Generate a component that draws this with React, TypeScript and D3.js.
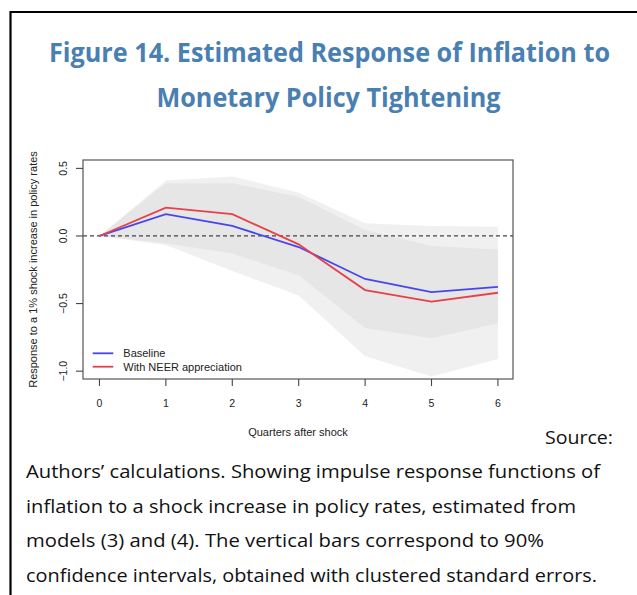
import React from "react";
import * as d3 from "d3";

const quarters = [0, 1, 2, 3, 4, 5, 6];
const baseline = [0, 0.162, 0.074, -0.082, -0.318, -0.416, -0.377];
const neer = [0, 0.209, 0.162, -0.062, -0.4, -0.485, -0.42];
const outerUpper = [0, 0.41, 0.44, 0.32, 0.094, 0.074, 0.069];
const outerLower = [0, -0.066, -0.26, -0.44, -0.89, -1.04, -0.91];
const innerUpper = [0, 0.39, 0.39, 0.29, 0.044, -0.074, -0.1];
const innerLower = [0, -0.054, -0.13, -0.29, -0.68, -0.756, -0.645];
const yTicks = [0.5, 0.0, -0.5, -1.0];
const yTickLabels = ["0.5", "0.0", "\u22120.5", "\u22121.0"];
const seriesNames = ["Baseline", "With NEER appreciation"];
const titleLines = ["Figure 14. Estimated Response of Inflation to", "Monetary Policy Tightening"];
const captionLines = [
  "Authors\u2019 calculations. Showing impulse response functions of",
  "inflation to a shock increase in policy rates, estimated from",
  "models (3) and (4). The vertical bars correspond to 90%",
  "confidence intervals, obtained with clustered standard errors.",
];

const W = 637;
const H = 595;
const box = { left: 83, right: 513, top: 160, bottom: 379 };

export default function App() {
  const x = d3.scaleLinear().domain([-0.248, 6.227]).range([box.left, box.right]);
  const y = d3.scaleLinear().domain([-1.058, 0.562]).range([box.bottom, box.top]);

  const band = (lo: number[], hi: number[]) =>
    d3
      .area<number>()
      .x((d) => x(d))
      .y0((d, i) => y(lo[i]))
      .y1((d, i) => y(hi[i]))(quarters) || "";
  const line = (vals: number[]) =>
    d3
      .line<number>()
      .x((d) => x(d))
      .y((d, i) => y(vals[i]))(quarters) || "";

  const axisFont = "Liberation Sans, Arial, sans-serif";
  const bodyFont = "Open Sans, Noto Sans, sans-serif";
  const colors = ["#4646ee", "#e8404a"];
  const captionWidths = [574, 550, 518, 571];
  const lineH = 34.5;

  return (
    <svg
      width={W}
      height={H}
      style={{ position: "absolute", left: 0, top: 0, background: "#fff" }}
    >
      <rect x={0} y={0} width={W} height={H} fill="#fff" />
      {/* outer frame */}
      <path d={`M10.5,${H} L10.5,12 L${W},12`} fill="none" stroke="#000" strokeWidth={2.2} />

      {/* title */}
      {titleLines.map((t, i) => (
        <text
          key={t}
          x={i === 0 ? 49 : 156.5}
          y={i === 0 ? 62.3 : 107.3}
          textLength={i === 0 ? 561 : 344}
          lengthAdjust="spacingAndGlyphs"
          fill="#4a7fb2"
          fontFamily={bodyFont}
          fontWeight={700}
          fontSize={26}
        >
          {t}
        </text>
      ))}

      {/* bands */}
      <path d={band(outerLower, outerUpper)} fill="#f0f0f0" />
      <path d={band(innerLower, innerUpper)} fill="#e6e6e6" />

      {/* zero line */}
      <line
        x1={box.left}
        x2={box.right}
        y1={y(0)}
        y2={y(0)}
        stroke="#444"
        strokeWidth={1.2}
        strokeDasharray="4,3"
      />

      {/* series */}
      <path d={line(baseline)} fill="none" stroke={colors[0]} strokeWidth={1.8} />
      <path d={line(neer)} fill="none" stroke={colors[1]} strokeWidth={1.8} />

      {/* box */}
      <rect
        x={box.left}
        y={box.top}
        width={box.right - box.left}
        height={box.bottom - box.top}
        fill="none"
        stroke="#555"
        strokeWidth={1.2}
      />

      {/* x axis */}
      {quarters.map((q) => (
        <g key={q}>
          <line x1={x(q)} x2={x(q)} y1={box.bottom} y2={box.bottom + 7} stroke="#444" strokeWidth={1.1} />
          <text
            x={x(q)}
            y={407}
            textAnchor="middle"
            fontFamily={axisFont}
            fontSize={10.5}
            fill="#222"
          >
            {q}
          </text>
        </g>
      ))}
      <text x={298} y={435.5} textAnchor="middle" fontFamily={axisFont} fontSize={11} fill="#222">
        Quarters after shock
      </text>

      {/* y axis */}
      {yTicks.map((v, i) => (
        <g key={v}>
          <line x1={box.left - 7} x2={box.left} y1={y(v)} y2={y(v)} stroke="#444" strokeWidth={1.1} />
          <text
            transform={`translate(67,${y(v)}) rotate(-90)`}
            textAnchor="middle"
            fontFamily={axisFont}
            fontSize={10.5}
            fill="#222"
          >
            {yTickLabels[i]}
          </text>
        </g>
      ))}
      <text
        transform={`translate(37,${(box.top + box.bottom) / 2}) rotate(-90)`}
        textAnchor="middle"
        fontFamily={axisFont}
        fontSize={11}
        fill="#222"
      >
        Response to a 1% shock increase in policy rates
      </text>

      {/* legend */}
      {seriesNames.map((n, i) => (
        <g key={n}>
          <line
            x1={92.7}
            x2={113.3}
            y1={353.3 + i * 13.4}
            y2={353.3 + i * 13.4}
            stroke={colors[i]}
            strokeWidth={1.8}
          />
          <text
            x={123.3}
            y={353.3 + i * 13.4 + 3.9}
            fontFamily={axisFont}
            fontSize={11}
            fill="#222"
          >
            {n}
          </text>
        </g>
      ))}

      {/* caption */}
      <text
        x={613}
        y={444}
        textAnchor="end"
        textLength={68}
        lengthAdjust="spacingAndGlyphs"
        fontFamily={bodyFont}
        fontSize={19}
        fill="#111"
      >
        Source:
      </text>
      {captionLines.map((t, i) => (
        <text
          key={i}
          x={26}
          y={478.3 + i * lineH}
          textLength={captionWidths[i]}
          lengthAdjust="spacingAndGlyphs"
          fontFamily={bodyFont}
          fontSize={19}
          fill="#111"
        >
          {t}
        </text>
      ))}
    </svg>
  );
}
